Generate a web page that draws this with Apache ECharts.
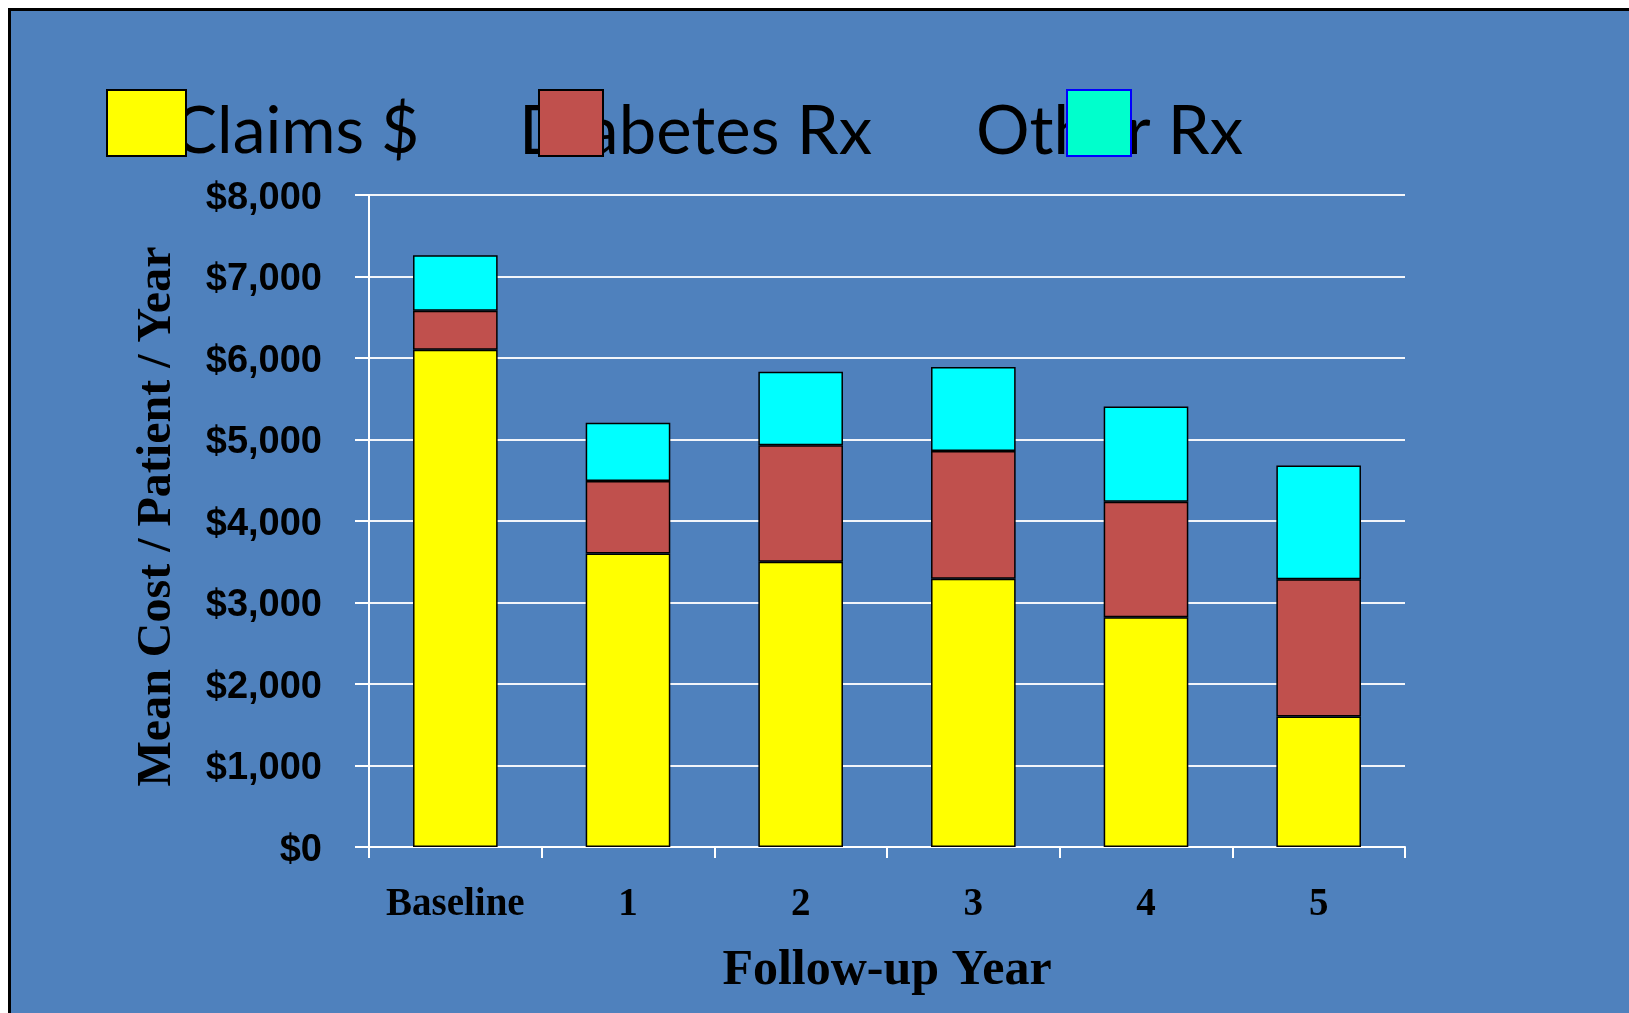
<!DOCTYPE html>
<html>
<head>
<meta charset="utf-8">
<script src="https://cdn.jsdelivr.net/npm/echarts@6/dist/echarts.min.js"></script>
<style>
	html, body { margin: 0; padding: 0; background: #fff; overflow: hidden; }
	.frame { position: absolute; left: 8px; top: 8px; border-left: 3px solid #000; border-top: 3px solid #000; }
	#costChart { width: 1618px; height: 1002px; }
</style>
</head>
<body>
<div class="frame"><div id="costChart"></div></div>
<script>
	// follow-up years
	let years = ['Baseline', '1', '2', '3', '4', '5']
	// mean cost per patient per year, stacked
	let claims = [6100, 3600, 3500, 3290, 2820, 1600]
	let diabetesRx = [480, 890, 1430, 1570, 1415, 1685]
	let otherRx = [680, 715, 900, 1030, 1170, 1395]
	let yTicks = [0, 1000, 2000, 3000, 4000, 5000, 6000, 7000, 8000]

	let legendFont = 'Lato'
	let legendSize = 66

	// legend text and legend swatches are drawn separately, swatches sit on top of the text
	function textLegend(name, left, size) {
		return {
			data: [name],
			left: left,
			top: 88,
			padding: 0,
			icon: 'none',
			itemWidth: 0,
			itemHeight: 66,
			z: 3,
			textStyle: { color: '#000', fontSize: size, fontFamily: legendFont }
		}
	}
	function iconLegend(name, left, width, style) {
		return {
			data: [{ name: name, itemStyle: style }],
			left: left,
			top: 78,
			padding: 0,
			icon: 'rect',
			itemWidth: width,
			itemHeight: 66,
			z: 4,
			formatter: function () { return '' }
		}
	}

	let myChart = echarts.init(document.getElementById('costChart'))
	myChart.setOption({
		backgroundColor: '#4F81BD',
		animation: false,
		legend: [
			textLegend('Claims $', 157, legendSize),
			textLegend('Diabetes Rx', 503, legendSize + 1),
			textLegend('Other Rx', 960, legendSize + 1),
			iconLegend('Claims $', 95, 79, { color: '#FFFF00', borderColor: '#000', borderWidth: 2 }),
			iconLegend('Diabetes Rx', 527, 64, { color: '#C0504D', borderColor: '#000', borderWidth: 2 }),
			iconLegend('Other Rx', 1055, 64, { color: '#00FFCC', borderColor: '#0000FF', borderWidth: 2 })
		],
		grid: {
			left: 358,
			right: 224,
			top: 184,
			bottom: 166
		},
		xAxis: {
			type: 'category',
			data: years,
			name: 'Follow-up Year',
			nameLocation: 'middle',
			nameGap: 99,
			nameTextStyle: { color: '#000', fontSize: 50, fontWeight: 'bold', fontFamily: 'Liberation Serif' },
			axisLine: { lineStyle: { color: '#fff', width: 2 } },
			axisTick: { show: true, length: 11, lineStyle: { color: '#fff', width: 2 } },
			axisLabel: {
				interval: 0,
				margin: 38,
				color: '#000',
				fontSize: 39,
				fontWeight: 'bold',
				fontFamily: 'Liberation Serif'
			}
		},
		yAxis: {
			type: 'value',
			min: yTicks[0],
			max: yTicks[yTicks.length - 1],
			interval: 1000,
			name: 'Mean Cost / Patient / Year',
			nameLocation: 'middle',
			nameGap: 187,
			nameTextStyle: { color: '#000', fontSize: 48, fontWeight: 'bold', fontFamily: 'Liberation Serif', padding: [0, 0, 0, 9] },
			axisLine: { show: true, lineStyle: { color: '#fff', width: 2 } },
			axisTick: { show: true, length: 14, lineStyle: { color: '#fff', width: 2 } },
			splitLine: { show: true, lineStyle: { color: '#F2F5FA', width: 2 } },
			axisLabel: {
				margin: 47,
				color: '#000',
				fontSize: 38,
				fontWeight: 'bold',
				fontFamily: 'Liberation Sans',
				formatter: function (v) { return '{v|$' + v.toLocaleString('en-US') + '}' },
				rich: {
					v: { fontSize: 38, fontWeight: 'bold', fontFamily: 'Liberation Sans', color: '#000', padding: [7, 0, 0, 0] }
				}
			}
		},
		series: [{
			name: 'Claims $',
			type: 'bar',
			stack: 'cost',
			data: claims,
			barWidth: '49%',
			itemStyle: { color: '#FFFF00', borderColor: '#000', borderWidth: 1.5 }
		}, {
			name: 'Diabetes Rx',
			type: 'bar',
			stack: 'cost',
			data: diabetesRx,
			itemStyle: { color: '#C0504D', borderColor: '#000', borderWidth: 1.5 }
		}, {
			name: 'Other Rx',
			type: 'bar',
			stack: 'cost',
			data: otherRx,
			itemStyle: { color: '#00FFFF', borderColor: '#000', borderWidth: 1.5 }
		}]
	})
</script>
</body>
</html>
